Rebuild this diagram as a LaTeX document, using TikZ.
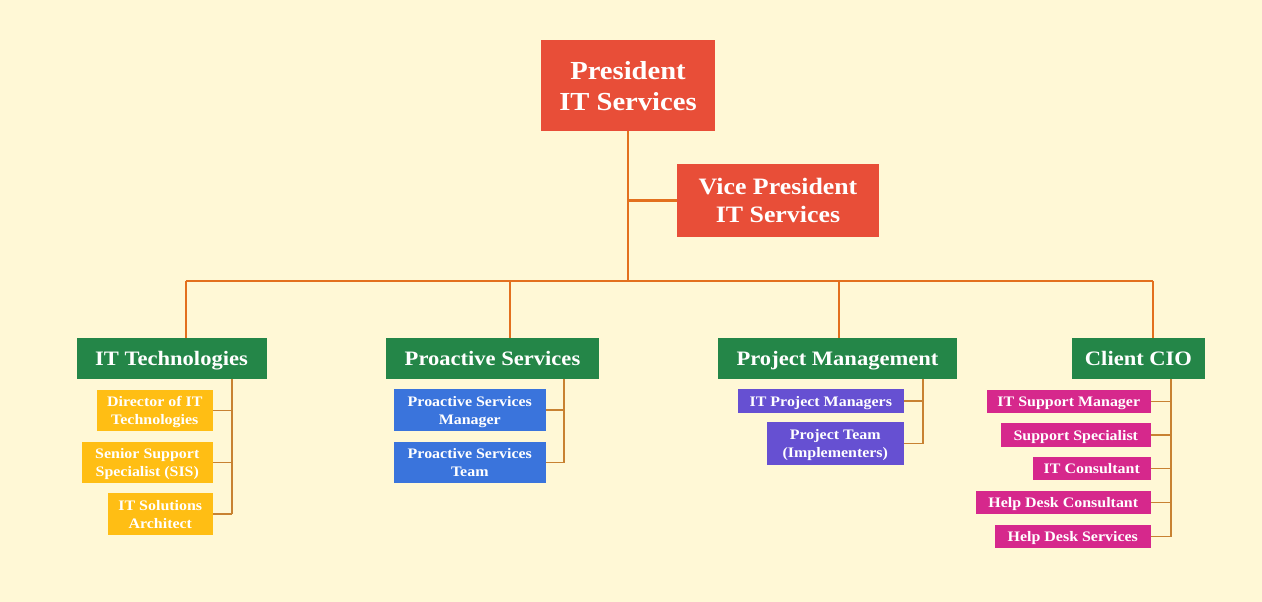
\documentclass[tikz,border=0pt]{standalone}
\usepackage{fontspec}
\setmainfont[FakeStretch=1.1]{Liberation Serif}
\usepackage{tikz}

\begin{document}
\begin{tikzpicture}[x=1pt,y=1pt,
  box/.style={rectangle,inner sep=0pt,align=center,text=white,text depth=0pt,font=\bfseries},
  topbox/.style={box,fill=topcolor},
  headbox/.style={box,fill=headcolor,minimum height=41pt,font=\bfseries\fontsize{20.5}{24}\selectfont},
  itembox/.style={box,anchor=east,font=\bfseries\fontsize{14.5}{18}\selectfont},
  mainline/.style={line width=2.6pt,draw=maincolor},
  subline/.style={line width=1.3pt,draw=subcolor}]
\definecolor{background}{RGB}{255,248,214}
\definecolor{topcolor}{RGB}{232,78,56}
\definecolor{headcolor}{RGB}{36,134,72}
\definecolor{techcolor}{RGB}{255,190,20}
\definecolor{procolor}{RGB}{58,116,220}
\definecolor{projcolor}{RGB}{102,80,210}
\definecolor{ciocolor}{RGB}{214,40,140}
\definecolor{maincolor}{RGB}{227,112,30}
\definecolor{subcolor}{RGB}{200,130,50}
\fill[background] (0,0) rectangle (1262,-602);
\useasboundingbox (0,0) rectangle (1262,-602);
\node[topbox,minimum width=174pt,minimum height=91pt,font=\bfseries\fontsize{26}{31}\selectfont] (pres) at (628,-85.5) {President\\IT Services};
\node[topbox,minimum width=202pt,minimum height=73pt,font=\bfseries\fontsize{23.5}{28}\selectfont] (vp) at (778,-200.5) {Vice President\\IT Services};
\node[headbox,minimum width=190pt] (ittech) at (171.5,-358.5) {IT Technologies};
\node[headbox,minimum width=213pt] (proact) at (492.5,-358.5) {Proactive Services};
\node[headbox,minimum width=239pt] (projm) at (837.5,-358.5) {Project Management};
\node[headbox,minimum width=133pt] (cio) at (1138.5,-358.5) {Client CIO};
\coordinate (bus) at (628,-281);
\coordinate (d1) at (186,-281);
\coordinate (d2) at (510,-281);
\coordinate (d3) at (839,-281);
\coordinate (d4) at (1153,-281);
\draw[mainline] (pres.south) -- (bus);
\draw[mainline] (vp.west) -- (vp.west -| pres.south);
\draw[mainline] (d1) -- (d4);
\draw[mainline] (d1) -- (d1 |- ittech.north);
\draw[mainline] (d2) -- (d2 |- proact.north);
\draw[mainline] (d3) -- (d3 |- projm.north);
\draw[mainline] (d4) -- (d4 |- cio.north);
\node[itembox,fill=techcolor,minimum width=116pt,minimum height=41pt] (t1) at (213,-410.5) {Director of IT\\Technologies};
\node[itembox,fill=techcolor,minimum width=131pt,minimum height=41pt] (t2) at (213,-462.5) {Senior Support\\Specialist (SIS)};
\node[itembox,fill=techcolor,minimum width=105pt,minimum height=42pt] (t3) at (213,-514) {IT Solutions\\Architect};
\node[itembox,fill=procolor,minimum width=152pt,minimum height=42pt] (p1) at (546,-410) {Proactive Services\\Manager};
\node[itembox,fill=procolor,minimum width=152pt,minimum height=41pt] (p2) at (546,-462.5) {Proactive Services\\Team};
\node[itembox,fill=projcolor,minimum width=166pt,minimum height=24pt] (m1) at (904,-401) {IT Project Managers};
\node[itembox,fill=projcolor,minimum width=137pt,minimum height=43pt] (m2) at (904,-443.5) {Project Team\\(Implementers)};
\node[itembox,fill=ciocolor,minimum width=164pt,minimum height=23pt] (c1) at (1151,-401.5) {IT Support Manager};
\node[itembox,fill=ciocolor,minimum width=150pt,minimum height=24pt] (c2) at (1151,-435) {Support Specialist};
\node[itembox,fill=ciocolor,minimum width=118pt,minimum height=23pt] (c3) at (1151,-468.5) {IT Consultant};
\node[itembox,fill=ciocolor,minimum width=175pt,minimum height=23pt] (c4) at (1151,-502.5) {Help Desk Consultant};
\node[itembox,fill=ciocolor,minimum width=156pt,minimum height=23pt] (c5) at (1151,-536.5) {Help Desk Services};
\coordinate (tv) at (232,-379);
\coordinate (pv) at (564,-379);
\coordinate (mv) at (923,-379);
\coordinate (cv) at (1171,-379);
\draw[subline] (tv) -- (tv |- t3.east);
\foreach \n in {t1,t2,t3} \draw[subline] (\n.east) -- (\n.east -| tv);
\draw[subline] (pv) -- (pv |- p2.east);
\foreach \n in {p1,p2} \draw[subline] (\n.east) -- (\n.east -| pv);
\draw[subline] (mv) -- (mv |- m2.east);
\foreach \n in {m1,m2} \draw[subline] (\n.east) -- (\n.east -| mv);
\draw[subline] (cv) -- (cv |- c5.east);
\foreach \n in {c1,c2,c3,c4,c5} \draw[subline] (\n.east) -- (\n.east -| cv);
\end{tikzpicture}
\end{document}
